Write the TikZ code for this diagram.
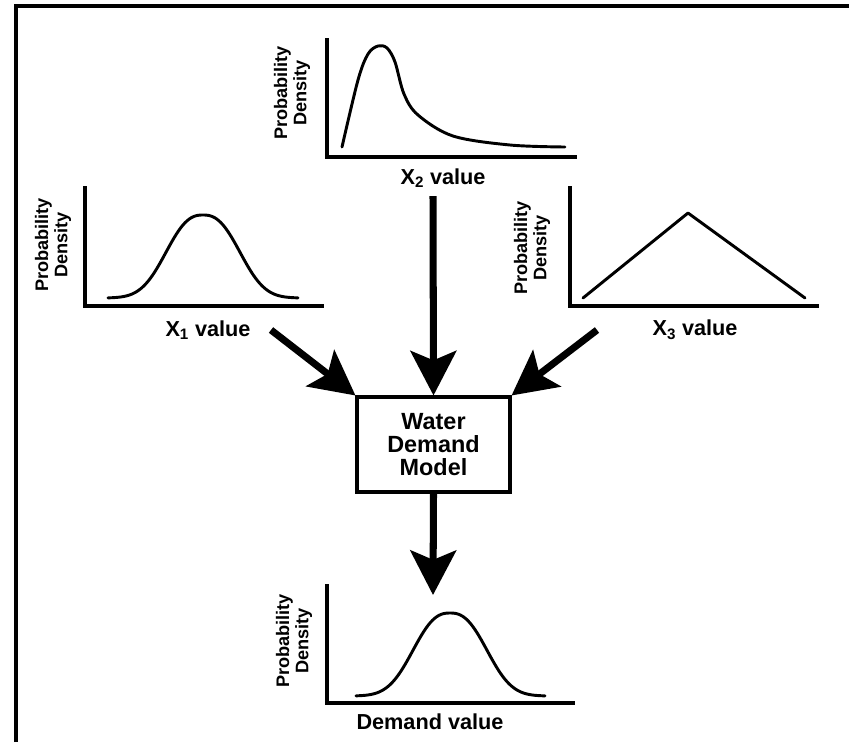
\documentclass[tikz,border=0pt]{standalone}
\usepackage{fontspec}
\setmainfont{Liberation Sans}
\usetikzlibrary{arrows.meta}
\usetikzlibrary{positioning}
\tikzset{
  axisline/.style={line width=3pt, line cap=rect},
  pdcurve/.style={line width=2.5pt, line cap=round, line join=round},
  pdlabel/.style={rotate=90, align=center, inner sep=0pt,
      font=\fontsize{15.5}{16.5}\selectfont\bfseries},
  vallabel/.style={inner sep=0pt, font=\fontsize{18.5}{20}\selectfont\bfseries},
  flow/.style={line width=6pt, -{Stealth[length=38pt, width=39pt, inset=8pt]}},
  modelbox/.style={draw, line width=2.6pt, align=center,
      minimum width=4.59cm, minimum height=2.85cm, inner sep=0pt,
      font=\fontsize{20}{19.5}\selectfont\bfseries},
}

\begin{document}
\begin{tikzpicture}[x=0.03cm, y=-0.03cm]
      \useasboundingbox (0,0) rectangle (849,742);
      \draw [line width=2.6pt] (16,742) -- (16,6) -- (849,6);

      % X2 (top)
      \draw [axisline] (327,40) -- (327,157) -- (575,157);
      \draw [pdcurve] plot [smooth, tension=0.55] coordinates {
          (342,147) (358,80) (368,54) (378,46) (387,48) (395,62)
          (404,94) (418,115) (453,136) (510,145) (565,147)};
      \node [pdlabel] (pd2) at (292,93) {Probability\\Density};
      \node [vallabel] (x2) at (443,178) {X\textsubscript{2} value};

      % X1 (left)
      \draw [axisline] (85,188) -- (85,306) -- (322,306);
      \draw [pdcurve] plot [domain=108:298, samples=90]
          (\x, {298-83*exp(-(abs(\x-203)/34.5)^2.5/2)});
      \node [pdlabel] (pd1) at (53,245) {Probability\\Density};
      \node [vallabel] (x1) at (208,330) {X\textsubscript{1} value};

      % X3 (right)
      \draw [axisline] (570,188) -- (570,306) -- (817,306);
      \draw [pdcurve] (583,298) -- (688,213) -- (805,298);
      \node [pdlabel] (pd3) at (532,248) {Probability\\Density};
      \node [vallabel] (x3) at (695,330) {X\textsubscript{3} value};

      % model
      \node [modelbox] (model) at (433.5,444.5) {Water\\Demand\\Model};

      \coordinate (s1) at (271,330);
      \coordinate (s2) at (433,196);
      \coordinate (s3) at (597,330);
      \coordinate (d) at (433,595);
      \draw [flow] (s1) -- (model.north west);
      \draw [flow] (s2) -- (model.north);
      \draw [flow] (s3) -- (model.north east);
      \draw [flow] (model.south) -- (d);

      % demand (bottom)
      \draw [axisline] (327,586) -- (327,703) -- (573,703);
      \draw [pdcurve] plot [domain=356:545, samples=90]
          (\x, {696-83*exp(-(abs(\x-450)/34.5)^2.5/2)});
      \node [pdlabel] (pd4) at (294,641) {Probability\\Density};
      \node [vallabel] (dv) at (430,722) {Demand value};
\end{tikzpicture}
\end{document}
